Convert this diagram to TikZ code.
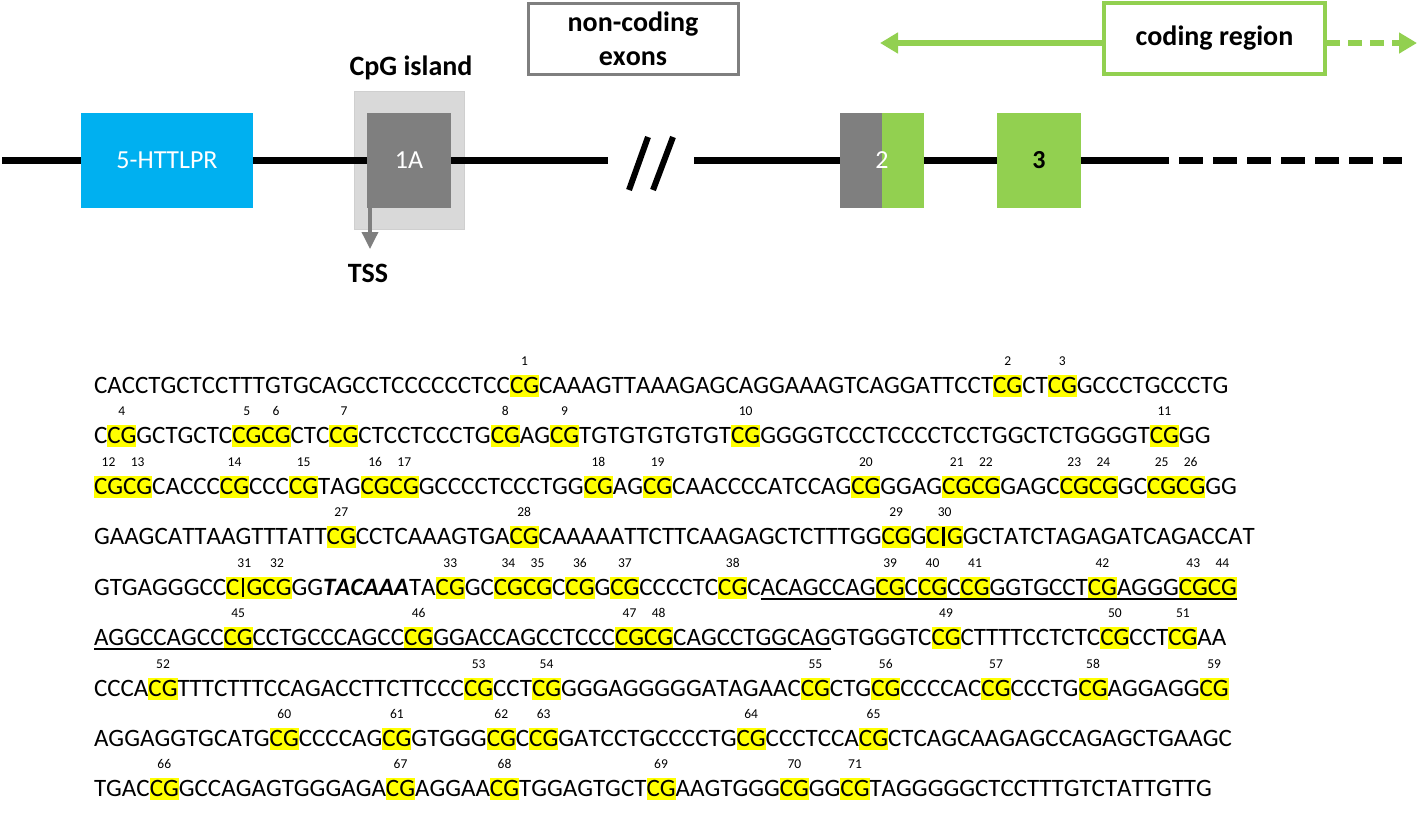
\documentclass[tikz,border=0pt]{standalone}
\usepackage{fontspec}
\setmainfont{Carlito}[Kerning=Off]
\usetikzlibrary{arrows.meta}
\definecolor{hly}{HTML}{FFFF00}
\definecolor{grn}{HTML}{92D050}
\definecolor{cyn}{HTML}{00B0F0}
\definecolor{dgray}{HTML}{7F7F7F}
\definecolor{lgray}{HTML}{D9D9D9}
\definecolor{mgray}{HTML}{CFCFCF}
\newcommand\cgbox[2]{\setbox0\hbox{#2}\rlap{\textcolor{hly}{\rule[-4pt]{\wd0}{22pt}}}\rlap{\makebox[\wd0]{\raisebox{28pt}{\fontsize{13.5}{13.5}\selectfont #1}}}\box0}
\newcommand\cg[1]{\cgbox{#1}{CG}}
\newcommand\cgb[1]{\cgbox{#1}{C\kern2.5pt\rule[-2pt]{2.2pt}{19pt}\kern2.5pt G}}
\newcommand\ulseq[1]{\setbox2\hbox{#1}\copy2\llap{\rule[-4.5pt]{\wd2}{1.6pt}}}
\tikzset{
  seq/.style={anchor=base west, inner sep=0pt, outer sep=0pt, font=\fontsize{25}{25}\selectfont},
  exon/.style={inner sep=0pt, outer sep=0pt, minimum height=95, font=\fontsize{26}{26}\selectfont},
  lbl/.style={inner sep=0pt, font=\bfseries\fontsize{28}{28}\selectfont},
  backbone/.style={line width=7pt, black},
}
\begin{document}
\begin{tikzpicture}[x=1pt,y=-1pt]
\useasboundingbox (0,0) rectangle (1418,815);
% ---- top gene diagram ----
\node[draw=mgray, fill=lgray, line width=1pt, minimum width=110, minimum height=138, inner sep=0pt] (cpg) at (409,160) {};
\coordinate (b0) at (2,160);
\coordinate (b1) at (608,160);
\coordinate (b2) at (694,160);
\coordinate (b3) at (1145,160);
\coordinate (b4) at (1402,160);
\draw[backbone] (b0) -- (b1);
\draw[backbone] (b2) -- (b3);
\draw[backbone, dash pattern=on 24pt off 10pt] (b3) -- (b4);
\node[exon, fill=cyn, minimum width=172, text=white] (httlpr) at (167,160.5) {5-HTTLPR};
\node[exon, fill=dgray, minimum width=84, text=white] (e1a) at (409,160.5) {1A};
\node[exon, fill=dgray, minimum width=42] (e2a) at (861,160.5) {};
\node[exon, fill=grn, minimum width=42] (e2b) at (903,160.5) {};
\node[exon, text=white, anchor=center] (e2lab) at (882,160.5) {2};
\node[exon, fill=grn, minimum width=84, font=\bfseries\fontsize{26}{26}\selectfont] (e3) at (1039,160.5) {3};
% slashes
\coordinate (s1a) at (629,190); \coordinate (s1b) at (648,137);
\coordinate (s2a) at (653,190); \coordinate (s2b) at (673,137);
\draw[line width=6pt] (s1a) -- (s1b);
\draw[line width=6pt] (s2a) -- (s2b);
% labels
\node[lbl] (cpglab) at (411,68) {CpG island};
\node[lbl] (tss) at (368,273) {TSS};
\coordinate (tssend) at (370,249);
\draw[dgray, line width=3.5pt, -{Triangle[width=16pt,length=17pt]}] (e1a.south west) ++(3,-1) -- (tssend);
\node[draw=dgray, line width=3pt, minimum width=210, minimum height=71, inner sep=0pt, align=center, font=\bfseries\fontsize{28}{34}\selectfont] (nce) at (633,38.5) {non-coding\\exons};
\node[draw=grn, line width=3.5pt, minimum width=221, minimum height=71, inner sep=0pt, font=\bfseries\fontsize{28}{28}\selectfont] (coding) at (1214.5,38.5) {coding region};
\coordinate (cl) at (1103,43);
\coordinate (cr) at (1326,43);
\coordinate (ltip) at (880,43);
\coordinate (rtip) at (1417,43);
\draw[grn, line width=6pt, -{Triangle[width=20pt,length=18pt]}] (cl) -- (ltip);
\draw[grn, line width=6pt, dash pattern=on 14pt off 8pt, -{Triangle[width=20pt,length=18pt]}] (cr) -- (rtip);
% ---- sequence ----
\node[seq] (q1) at (94,393) {CACCTGCTCCTTTGTGCAGCCTCCCCCCTCC\cg{1}CAAAGTTAAAGAGCAGGAAAGTCAGGATTCCT\cg{2}CT\cg{3}GCCCTGCCCTG};
\node[seq] (q2) at (94,443) {C\cg{4}GCTGCTC\cg{5}\cg{6}CTC\cg{7}CTCCTCCCTG\cg{8}AG\cg{9}TGTGTGTGTGT\cg{10}GGGGTCCCTCCCCTCCTGGCTCTGGGGT\cg{11}GG};
\node[seq] (q3) at (94,494) {\cg{12}\cg{13}CACCC\cg{14}CCC\cg{15}TAG\cg{16}\cg{17}GCCCCTCCCTGG\cg{18}AG\cg{19}CAACCCCATCCAG\cg{20}GGAG\cg{21}\cg{22}GAGC\cg{23}\cg{24}GC\cg{25}\cg{26}GG};
\node[seq] (q4) at (94,544) {GAAGCATTAAGTTTATT\cg{27}CCTCAAAGTGA\cg{28}CAAAAATTCTTCAAGAGCTCTTTGG\cg{29}G\cgb{30}GCTATCTAGAGATCAGACCAT};
\node[seq] (q5) at (94,595) {GTGAGGGCC\cgb{31}\cg{32}GG\textbf{\textit{TACAAA}}TA\cg{33}GC\cg{34}\cg{35}C\cg{36}G\cg{37}CCCCTC\cg{38}C\ulseq{ACAGCCAG\cg{39}C\cg{40}C\cg{41}GGTGCCT\cg{42}AGGG\cg{43}\cg{44}}};
\node[seq] (q6) at (94,645) {\ulseq{AGGCCAGCC\cg{45}CCTGCCCAGCC\cg{46}GGACCAGCCTCCC\cg{47}\cg{48}CAGCCTGGCAG}GTGGGTC\cg{49}CTTTTCCTCTC\cg{50}CCT\cg{51}AA};
\node[seq] (q7) at (94,696) {CCCA\cg{52}TTTCTTTCCAGACCTTCTTCCC\cg{53}CCT\cg{54}GGGAGGGGGATAGAAC\cg{55}CTG\cg{56}CCCCAC\cg{57}CCCTG\cg{58}AGGAGG\cg{59}};
\node[seq] (q8) at (94,746) {AGGAGGTGCATG\cg{60}CCCCAG\cg{61}GTGGG\cg{62}C\cg{63}GATCCTGCCCCTG\cg{64}CCCTCCA\cg{65}CTCAGCAAGAGCCAGAGCTGAAGC};
\node[seq] (q9) at (94,796) {TGAC\cg{66}GCCAGAGTGGGAGA\cg{67}AGGAA\cg{68}TGGAGTGCT\cg{69}AAGTGGG\cg{70}GG\cg{71}TAGGGGGCTCCTTTGTCTATTGTTG};
\end{tikzpicture}
\end{document}
